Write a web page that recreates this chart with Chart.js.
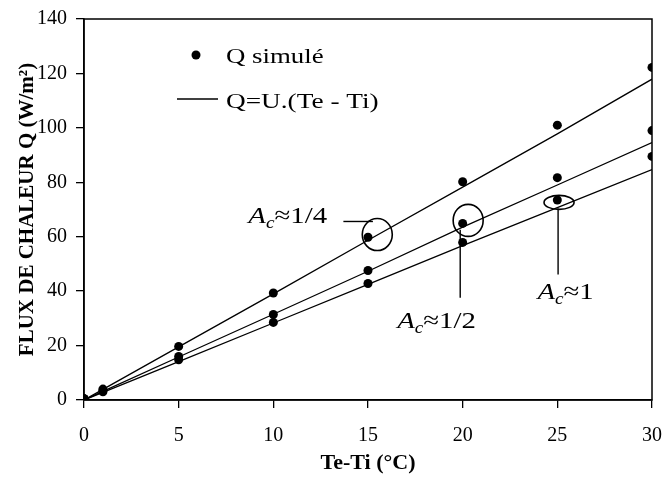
<!DOCTYPE html>
<html><head><meta charset="utf-8">
<script src="https://cdn.jsdelivr.net/npm/chart.js@4"></script>
<style>html,body{margin:0;padding:0;background:#fff}canvas{display:block}</style>
</head><body>
<canvas id="c" width="663" height="477"></canvas>
<script>
// ---- data ----
const xValues = [0, 1, 5, 10, 15, 20, 25, 30];
const simQuarter = [0.5, 4.0, 19.7, 39.3, 59.8, 80.2, 101.0, 122.2];
const simHalf    = [0.5, 3.5, 16.0, 31.4, 47.6, 64.9, 81.7, 99.0];
const simOne     = [0.5, 3.0, 14.8, 28.5, 42.8, 57.9, 73.5, 89.5];
const fitQuarter = [0, 3.9, 19.5, 39.0, 58.7, 78.2, 97.8, 117.9];
const fitHalf    = [0, 3.2, 15.8, 31.5, 47.3, 63.5, 79.0, 94.6];
const fitOne     = [0, 2.8, 14.1, 28.3, 42.5, 56.7, 70.7, 84.7];
const xTicks = [0, 5, 10, 15, 20, 25, 30];
const yTicks = [0, 20, 40, 60, 80, 100, 120, 140];
const xTitle = 'Te-Ti (°C)';
const yTitle = 'FLUX DE CHALEUR Q (W/m²)';
const legendLabels = ['Q simulé', 'Q=U.(Te - Ti)'];
const annoLabels = ['1/4', '1/2', '1'];

const FONT = "'Liberation Serif', 'Times New Roman', serif";
const pts = a => xValues.map((x, i) => ({x, y: a[i]}));

const dotStyle = {showLine: false, pointRadius: 4.5, pointBackgroundColor: '#000', pointBorderColor: '#000', borderWidth: 0};
const lineStyle = {showLine: true, pointRadius: 0, borderColor: '#000', borderWidth: 1.3, tension: 0, fill: false};

// annotation placement (data coordinates for anchors, px sizes)
const annotations = [
  {label: annoLabels[0], text: {x: 8.68, y: 65.0}, ell: {x: 15.49, y: 60.8, rx: 15, ry: 16},
   leader: [{x: 13.7, y: 65.6}, {x: 15.26, y: 65.6}]},
  {label: annoLabels[1], text: {x: 16.54, y: 26.5}, ell: {x: 20.29, y: 66.0, rx: 15, ry: 16},
   leader: [{x: 19.87, y: 62.6}, {x: 19.87, y: 37.6}]},
  {label: annoLabels[2], text: {x: 23.95, y: 37.2}, ell: {x: 25.09, y: 72.6, rx: 15, ry: 7},
   leader: [{x: 25.04, y: 70.4}, {x: 25.04, y: 46.1}]}
];

function stretchText(ctx, str, x, y, font, sx) {
  ctx.save();
  ctx.font = font;
  ctx.translate(x, y);
  ctx.scale(sx, 1);
  ctx.fillText(str, 0, 0);
  const w = ctx.measureText(str).width * sx;
  ctx.restore();
  return w;
}

const overlay = {
  id: 'overlay',
  afterDraw(chart) {
    const {ctx, chartArea: ca, scales: {x, y}} = chart;
    ctx.save();
    // frame
    ctx.strokeStyle = '#000';
    ctx.lineWidth = 1.5;
    ctx.strokeRect(ca.left, ca.top, ca.right - ca.left, ca.bottom - ca.top);
    // legend
    ctx.fillStyle = '#000';
    ctx.textBaseline = 'middle';
    const lx = ca.left + 112, ly1 = ca.top + 36, ly2 = ca.top + 80;
    ctx.beginPath(); ctx.arc(lx, ly1, 4.5, 0, Math.PI * 2); ctx.fill();
    stretchText(ctx, legendLabels[0], ca.left + 142, ly1 + 2, '22px ' + FONT, 1.22);
    ctx.lineWidth = 1.3;
    ctx.beginPath(); ctx.moveTo(ca.left + 93, ly2); ctx.lineTo(ca.left + 134, ly2); ctx.stroke();
    stretchText(ctx, legendLabels[1], ca.left + 142, ly2 + 3, '22px ' + FONT, 1.24);
    // annotations
    ctx.textBaseline = 'alphabetic';
    annotations.forEach(a => {
      const ex = x.getPixelForValue(a.ell.x), ey = y.getPixelForValue(a.ell.y);
      ctx.lineWidth = 1.6;
      ctx.beginPath(); ctx.ellipse(ex, ey, a.ell.rx, a.ell.ry, 0, 0, Math.PI * 2); ctx.stroke();
      ctx.lineWidth = 1.4;
      ctx.beginPath();
      ctx.moveTo(x.getPixelForValue(a.leader[0].x), y.getPixelForValue(a.leader[0].y));
      ctx.lineTo(x.getPixelForValue(a.leader[1].x), y.getPixelForValue(a.leader[1].y));
      ctx.stroke();
      let tx = x.getPixelForValue(a.text.x);
      const ty = y.getPixelForValue(a.text.y);
      tx += stretchText(ctx, 'A', tx, ty, 'italic 24px ' + FONT, 1.2);
      tx += stretchText(ctx, 'c', tx, ty + 5, 'italic 16px ' + FONT, 1.2);
      stretchText(ctx, '≈' + a.label, tx, ty, '24px ' + FONT, 1.2);
    });
    ctx.restore();
  }
};

new Chart(document.getElementById('c'), {
  type: 'scatter',
  data: {
    datasets: [
      {data: pts(fitQuarter), ...lineStyle},
      {data: pts(fitHalf), ...lineStyle},
      {data: pts(fitOne), ...lineStyle},
      {data: pts(simQuarter), ...dotStyle},
      {data: pts(simHalf), ...dotStyle},
      {data: pts(simOne), ...dotStyle}
    ]
  },
  options: {
    responsive: false,
    animation: false,
    devicePixelRatio: 1,
    layout: {padding: {top: 19, right: 11, left: 0, bottom: 0}},
    plugins: {legend: {display: false}, tooltip: {enabled: false}},
    scales: {
      x: {
        type: 'linear', min: 0, max: 30,
        afterBuildTicks: s => { s.ticks = xTicks.map(v => ({value: v})); },
        afterFit: s => { s.height = 77; s.paddingLeft = 0; s.paddingRight = 0; },
        ticks: {color: '#000', font: {family: FONT, size: 20}, padding: 16, maxRotation: 0},
        grid: {drawOnChartArea: false, drawTicks: true, tickLength: 8, color: '#000', lineWidth: 1.3},
        border: {display: true, color: '#000', width: 1.5},
        title: {display: true, text: xTitle, color: '#000', font: {family: FONT, size: 22, weight: 'bold'}, padding: {top: 0, bottom: 0}}
      },
      y: {
        type: 'linear', min: 0, max: 140,
        afterBuildTicks: s => { s.ticks = yTicks.map(v => ({value: v})); },
        afterFit: s => { s.width = 84; s.paddingTop = 0; s.paddingBottom = 0; },
        ticks: {color: '#000', font: {family: FONT, size: 20}, padding: 9},
        grid: {drawOnChartArea: false, drawTicks: true, tickLength: 8, color: '#000', lineWidth: 1.3},
        border: {display: true, color: '#000', width: 1.5},
        title: {display: true, text: yTitle, color: '#000', font: {family: FONT, size: 21, weight: 'bold'}, padding: {top: 15, bottom: 0}}
      }
    }
  },
  plugins: [overlay]
});
</script>
</body></html>
